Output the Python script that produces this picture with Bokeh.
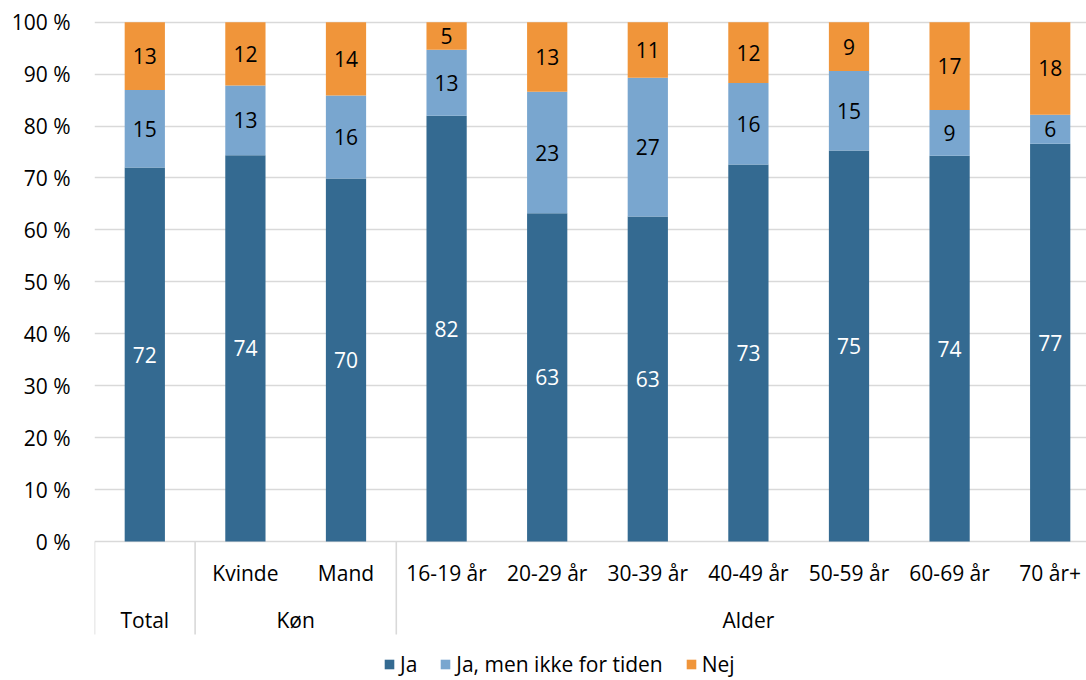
import numpy as np
from bokeh.plotting import figure
from bokeh.models import ColumnDataSource, Range1d, FixedTicker, Legend, LegendItem
from bokeh.core.properties import value
from bokeh.embed import file_html
from bokeh.resources import INLINE

# ---------------- data ----------------
categories = ["Total", "Kvinde", "Mand", "16-19 år", "20-29 år", "30-39 år",
              "40-49 år", "50-59 år", "60-69 år", "70 år+"]
sub_labels = ["", "Kvinde", "Mand", "16-19 år", "20-29 år", "30-39 år",
              "40-49 år", "50-59 år", "60-69 år", "70 år+"]
groups = ["Total", "Køn", "Alder"]
group_sizes = [1, 2, 7]
series_names = ["Ja", "Ja, men ikke for tiden", "Nej"]
ja = [72.0, 74.4, 69.9, 82.0, 63.2, 62.6, 72.6, 75.3, 74.3, 76.6]
ja_men = [14.95, 13.4, 16.0, 12.7, 23.4, 26.7, 15.7, 15.3, 8.8, 5.6]
nej = [13.05, 12.2, 14.1, 5.3, 13.4, 10.7, 11.7, 9.4, 16.9, 17.8]
y_ticks = list(range(0, 101, 10))

# ---------------- style ----------------
FONT = "Open Sans"
FS = "21px"
colors = ["#346A91", "#79A6CF", "#F0953A"]
label_colors = ["#FFFFFF", "#000000", "#000000"]
grid_color = "#D9D9D9"

W, H = 1086, 680
FRAME_TOP = 12
Y100_PX = 21.7
ZERO_PX = 541.0
PX_PER = (ZERO_PX - Y100_PX) / 100.0
Y_MAX = 100 + (Y100_PX - FRAME_TOP) / PX_PER
Y_MIN = -(H - ZERO_PX) / PX_PER
CAT_PX = 100.6
LEFT = 94
X_MAX = -0.5 + (W - LEFT) / CAT_PX
SEP_BOTTOM = -(634 - ZERO_PX) / PX_PER
ROW1_Y = -(572 - ZERO_PX) / PX_PER
ROW2_Y = -(619 - ZERO_PX) / PX_PER

x = np.arange(len(categories))
src = ColumnDataSource(dict(x=x, ja=ja, ja_men=ja_men, nej=nej))

p = figure(width=W, height=H, output_backend="svg", toolbar_location=None,
           x_range=Range1d(-0.5, X_MAX), y_range=Range1d(Y_MIN, Y_MAX),
           min_border_left=LEFT, min_border_top=FRAME_TOP, min_border_right=0,
           min_border_bottom=0)
p.outline_line_color = None
p.xaxis.visible = False
p.xgrid.visible = False

p.ygrid.ticker = FixedTicker(ticks=y_ticks)
p.ygrid.grid_line_color = grid_color
p.ygrid.grid_line_width = 1.6
p.yaxis.ticker = FixedTicker(ticks=y_ticks)
p.yaxis.major_label_overrides = {t: f"{t} %" for t in y_ticks}
p.yaxis.axis_line_color = None
p.yaxis.major_tick_line_color = None
p.yaxis.minor_tick_line_color = None
p.yaxis.major_tick_out = 0
p.yaxis.major_label_standoff = 24
p.yaxis.major_label_text_font = FONT
p.yaxis.major_label_text_font_size = FS
p.yaxis.major_label_text_color = "#000000"

keys = ["ja", "ja_men", "nej"]
rends = p.vbar_stack(keys, x="x", width=0.4, color=colors, line_color=None, source=src)

# data labels
vals = np.array([ja, ja_men, nej])
bottoms = np.vstack([np.zeros(len(categories)), np.cumsum(vals, axis=0)[:-1]])
for i in range(3):
    mids = bottoms[i] + vals[i] / 2
    lsrc = ColumnDataSource(dict(x=x, y=mids, t=[f"{v:.0f}" for v in vals[i]]))
    p.text(x="x", y="y", text="t", source=lsrc, text_align="center",
           text_baseline="middle", text_font=value(FONT), text_font_size=FS,
           text_color=label_colors[i])

# category axis (two levels)
csrc = ColumnDataSource(dict(x=x, y=[ROW1_Y] * len(x), t=sub_labels))
p.text(x="x", y="y", text="t", source=csrc, text_align="center",
       text_baseline="middle", text_font=value(FONT), text_font_size=FS,
       text_color="#000000")
edges = np.concatenate([[0], np.cumsum(group_sizes)]) - 0.5
gcent = (edges[:-1] + edges[1:]) / 2
gsrc = ColumnDataSource(dict(x=gcent, y=[ROW2_Y] * len(groups), t=groups))
p.text(x="x", y="y", text="t", source=gsrc, text_align="center",
       text_baseline="middle", text_font=value(FONT), text_font_size=FS,
       text_color="#000000")
p.segment(x0=edges, y0=[0] * len(edges), x1=edges, y1=[SEP_BOTTOM] * len(edges),
          line_color=grid_color, line_width=1.6)

legend = Legend(items=[LegendItem(label=series_names[i], renderers=[rends[i]]) for i in range(3)],
                orientation="horizontal", location=(289, 2),
                glyph_width=12, glyph_height=12, label_standoff=5, spacing=22,
                label_width=5, padding=0, margin=0, border_line_color=None,
                background_fill_alpha=0,
                label_text_font=FONT, label_text_font_size=FS, label_text_color="#000000")
p.add_layout(legend)

open("out.html", "w").write(file_html(p, INLINE))
